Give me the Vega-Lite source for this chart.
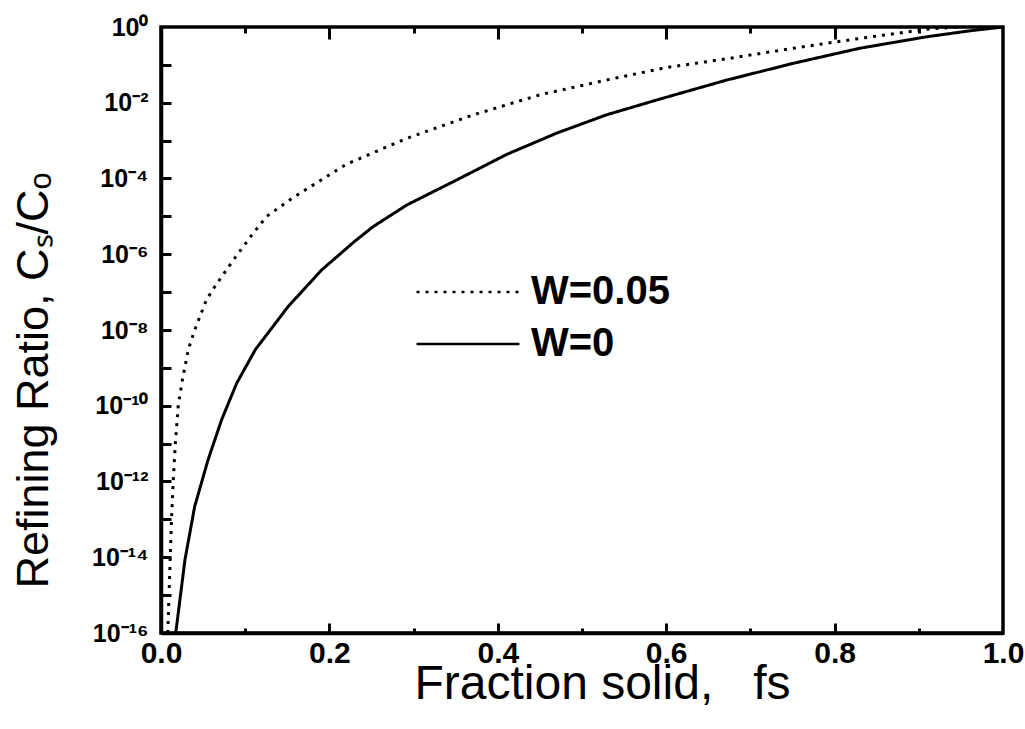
{
  "$schema": "https://vega.github.io/schema/vega-lite/v6.json",
  "width": 842,
  "height": 606,
  "autosize": {"type": "none"},
  "padding": {"left": 161, "top": 27, "right": 22, "bottom": 96},
  "background": "white",
  "config": {
    "view": {"stroke": "black", "strokeWidth": 3.5},
    "font": "Liberation Sans"
  },
  "data": {
    "values": [
      {"fs": 0.0175, "ratio": 1e-16, "W": "W=0"},
      {"fs": 0.0285, "ratio": 8.7e-15, "W": "W=0"},
      {"fs": 0.040, "ratio": 2.19e-13, "W": "W=0"},
      {"fs": 0.056, "ratio": 3.8e-12, "W": "W=0"},
      {"fs": 0.072, "ratio": 4.27e-11, "W": "W=0"},
      {"fs": 0.090, "ratio": 3.98e-10, "W": "W=0"},
      {"fs": 0.112, "ratio": 3.02e-9, "W": "W=0"},
      {"fs": 0.151, "ratio": 4.17e-8, "W": "W=0"},
      {"fs": 0.191, "ratio": 3.89e-7, "W": "W=0"},
      {"fs": 0.230, "ratio": 2.19e-6, "W": "W=0"},
      {"fs": 0.252, "ratio": 5.37e-6, "W": "W=0"},
      {"fs": 0.292, "ratio": 2.0e-5, "W": "W=0"},
      {"fs": 0.351, "ratio": 9.12e-5, "W": "W=0"},
      {"fs": 0.411, "ratio": 4.37e-4, "W": "W=0"},
      {"fs": 0.470, "ratio": 1.58e-3, "W": "W=0"},
      {"fs": 0.529, "ratio": 4.79e-3, "W": "W=0"},
      {"fs": 0.593, "ratio": 1.26e-2, "W": "W=0"},
      {"fs": 0.672, "ratio": 3.98e-2, "W": "W=0"},
      {"fs": 0.751, "ratio": 0.110, "W": "W=0"},
      {"fs": 0.830, "ratio": 0.275, "W": "W=0"},
      {"fs": 0.909, "ratio": 0.55, "W": "W=0"},
      {"fs": 0.960, "ratio": 0.79, "W": "W=0"},
      {"fs": 1.0, "ratio": 1.0, "W": "W=0"},
      {"fs": 0.008, "ratio": 1e-16, "W": "W=0.05"},
      {"fs": 0.0095, "ratio": 1e-15, "W": "W=0.05"},
      {"fs": 0.011, "ratio": 1e-14, "W": "W=0.05"},
      {"fs": 0.0125, "ratio": 1e-13, "W": "W=0.05"},
      {"fs": 0.0145, "ratio": 1e-12, "W": "W=0.05"},
      {"fs": 0.017, "ratio": 1e-11, "W": "W=0.05"},
      {"fs": 0.0205, "ratio": 1e-10, "W": "W=0.05"},
      {"fs": 0.0255, "ratio": 5.0e-10, "W": "W=0.05"},
      {"fs": 0.0324, "ratio": 3.02e-9, "W": "W=0.05"},
      {"fs": 0.040, "ratio": 1e-8, "W": "W=0.05"},
      {"fs": 0.054, "ratio": 6.3e-8, "W": "W=0.05"},
      {"fs": 0.064, "ratio": 1.41e-7, "W": "W=0.05"},
      {"fs": 0.086, "ratio": 7.08e-7, "W": "W=0.05"},
      {"fs": 0.108, "ratio": 3.24e-6, "W": "W=0.05"},
      {"fs": 0.1255, "ratio": 1e-5, "W": "W=0.05"},
      {"fs": 0.157, "ratio": 3.16e-5, "W": "W=0.05"},
      {"fs": 0.2205, "ratio": 2.4e-4, "W": "W=0.05"},
      {"fs": 0.292, "ratio": 1.15e-3, "W": "W=0.05"},
      {"fs": 0.371, "ratio": 4.79e-3, "W": "W=0.05"},
      {"fs": 0.450, "ratio": 1.62e-2, "W": "W=0.05"},
      {"fs": 0.529, "ratio": 3.98e-2, "W": "W=0.05"},
      {"fs": 0.600, "ratio": 8.5e-2, "W": "W=0.05"},
      {"fs": 0.672, "ratio": 0.145, "W": "W=0.05"},
      {"fs": 0.751, "ratio": 0.275, "W": "W=0.05"},
      {"fs": 0.830, "ratio": 0.50, "W": "W=0.05"},
      {"fs": 0.909, "ratio": 0.87, "W": "W=0.05"},
      {"fs": 0.945, "ratio": 1.0, "W": "W=0.05"}
    ]
  },
  "layer": [
    {
      "transform": [{"filter": "datum.W === 'W=0'"}],
      "mark": {"type": "line", "color": "black", "strokeWidth": 3, "clip": true},
      "encoding": {
        "x": {
          "field": "fs", "type": "quantitative",
          "scale": {"domain": [0, 1], "nice": false, "zero": false},
          "axis": {
            "orient": "bottom",
            "title": "Fraction solid,\u00a0\u00a0\u00a0fs",
            "values": [0, 0.2, 0.4, 0.6, 0.8, 1.0],
            "format": ".1f",
            "grid": false, "ticks": false,
            "domainColor": "black", "domainWidth": 3.5,
            "labelFont": "Liberation Sans", "labelFontSize": 30, "labelFontWeight": "bold",
            "labelColor": "black", "labelPadding": 5, "labelFlush": false, "labelOverlap": false,
            "titleFont": "Liberation Sans", "titleFontSize": 48, "titleFontWeight": "normal",
            "titleColor": "black", "titleX": 441, "titleY": 65,
            "titleBaseline": "alphabetic", "titleAlign": "center"
          }
        },
        "y": {
          "field": "ratio", "type": "quantitative",
          "scale": {"type": "log", "domain": [1e-16, 1], "nice": false},
          "axis": {
            "orient": "left",
            "title": "Refining Ratio, C\u209b/C\u2092",
            "values": [1e-16, 1e-14, 1e-12, 1e-10, 1e-8, 1e-6, 1e-4, 1e-2, 1],
            "labelExpr": "datum.value >= 0.5 ? '10\u2070' : '10' + replace(replace(replace(replace(replace(replace(replace(toString(round(log(datum.value) / LN10)), '-', '\u207b'), '0', '\u2070'), '1', '\u00b9'), '2', '\u00b2'), '4', '\u2074'), '6', '\u2076'), '8', '\u2078')",
            "grid": false, "ticks": false,
            "domainColor": "black", "domainWidth": 3.5,
            "labelFont": "Liberation Sans", "labelFontSize": 25, "labelFontWeight": "bold",
            "labelColor": "black", "labelPadding": 13, "labelFlush": false, "labelOverlap": false,
            "titleFont": "Liberation Sans", "titleFontSize": 45, "titleFontWeight": "normal",
            "titleColor": "black", "titleX": -114, "titleY": 353, "titleAngle": -90,
            "titleBaseline": "alphabetic", "titleAlign": "center"
          }
        },
        "strokeDash": {
          "field": "W", "type": "nominal",
          "scale": {"domain": ["W=0.05", "W=0"], "range": [[3, 6], [1, 0]]},
          "legend": {
            "orient": "none", "legendX": 287, "legendY": 245,
            "title": null, "padding": 0,
            "symbolType": "M-10,0H10", "symbolSize": 106,
            "symbolStrokeWidth": 2.5, "symbolStrokeColor": "black",
            "labelFont": "Liberation Sans", "labelFontSize": 40, "labelFontWeight": "bold",
            "labelColor": "black", "labelOffset": 43, "rowPadding": 12
          }
        }
      }
    },
    {
      "transform": [{"filter": "datum.W === 'W=0.05'"}],
      "mark": {"type": "line", "color": "black", "strokeWidth": 3, "clip": true},
      "encoding": {
        "x": {
          "field": "fs", "type": "quantitative",
          "scale": {"domain": [0, 1], "nice": false, "zero": false},
          "axis": {
            "orient": "top", "offset": -606, "title": null, "labels": false, "grid": false, "domain": false,
            "values": [0.1, 0.2, 0.3, 0.4, 0.5, 0.6, 0.7, 0.8, 0.9],
            "tickColor": "black", "tickWidth": 3,
            "tickSize": {"condition": {"test": "round(datum.value * 10) % 2 === 0", "value": 10}, "value": 5}
          }
        },
        "y": {
          "field": "ratio", "type": "quantitative",
          "scale": {"type": "log", "domain": [1e-16, 1], "nice": false},
          "axis": {
            "orient": "right", "offset": -842, "title": null, "labels": false, "grid": false, "domain": false,
            "values": [1e-15, 1e-14, 1e-13, 1e-12, 1e-11, 1e-10, 1e-9, 1e-8, 1e-7, 1e-6, 1e-5, 1e-4, 1e-3, 1e-2, 1e-1],
            "tickColor": "black", "tickWidth": 3, "tickSize": 10
          }
        },
        "strokeDash": {"field": "W", "type": "nominal"}
      }
    },
    {
      "transform": [{"filter": "datum.W === 'W=0.05'"}],
      "mark": {"type": "line", "strokeOpacity": 0, "clip": true},
      "encoding": {
        "x": {
          "field": "fs", "type": "quantitative",
          "scale": {"domain": [0, 1], "nice": false, "zero": false},
          "axis": {
            "orient": "bottom", "offset": -606, "title": null, "labels": false, "grid": false, "domain": false,
            "values": [0.1, 0.2, 0.3, 0.4, 0.5, 0.6, 0.7, 0.8, 0.9],
            "tickColor": "black", "tickWidth": 3,
            "tickSize": {"condition": {"test": "round(datum.value * 10) % 2 === 0", "value": 12}, "value": 6}
          }
        },
        "y": {
          "field": "ratio", "type": "quantitative",
          "scale": {"type": "log", "domain": [1e-16, 1], "nice": false},
          "axis": null
        }
      }
    }
  ],
  "resolve": {"axis": {"x": "independent", "y": "independent"}}
}
